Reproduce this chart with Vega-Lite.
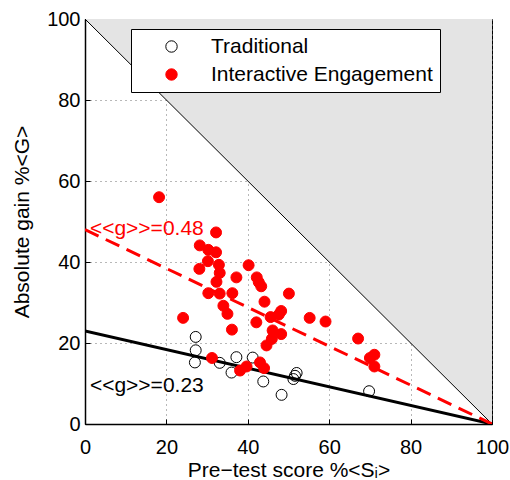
{
  "$schema": "https://vega.github.io/schema/vega-lite/v6.json",
  "width": 407,
  "height": 405,
  "autosize": {"type": "none"},
  "padding": {"left": 85, "top": 19, "right": 18, "bottom": 56},
  "background": "white",
  "config": {
    "font": "Liberation Sans",
    "view": {"stroke": "black", "strokeWidth": 1},
    "axis": {
      "grid": true,
      "gridDash": [1, 4],
      "gridColor": "#707070",
      "gridWidth": 1,
      "domainColor": "black",
      "domainWidth": 1.5,
      "tickColor": "black",
      "tickSize": -5,
      "labelFlush": false,
      "labelFont": "Liberation Sans",
      "labelFontSize": 20,
      "labelColor": "black",
      "titleFont": "Liberation Sans",
      "titleFontSize": 21,
      "titleFontWeight": "normal",
      "titleColor": "black"
    },
    "axisX": {"labelPadding": 18, "titlePadding": 2},
    "axisY": {"labelPadding": 10, "titlePadding": 14},
    "legend": {
      "orient": "none",
      "legendX": 46,
      "legendY": 10,
      "strokeColor": "black",
      "fillColor": "white",
      "padding": 7,
      "symbolOffset": 23,
      "labelOffset": 29,
      "labelFontSize": 21,
      "labelFont": "Liberation Sans",
      "labelColor": "black",
      "labelLimit": 400,
      "rowPadding": 6,
      "symbolSize": 130,
      "symbolStrokeWidth": 1
    }
  },
  "datasets": {
    "tri": [
      {"x": 0, "y": 100, "y2": 100},
      {"x": 100, "y": 0, "y2": 100}
    ],
    "fitIE": [{"x": 0, "y": 48}, {"x": 100, "y": 0}],
    "fitT": [{"x": 0, "y": 23}, {"x": 100, "y": 0}],
    "labels": [
      {"x": 1.2, "y": 46.7, "label": "<<g>>=0.48", "kind": "IE"},
      {"x": 1.2, "y": 8.0, "label": "<<g>>=0.23", "kind": "T"}
    ],
    "pts": [
      {"group": "Traditional", "x": 27.2, "y": 21.5},
      {"group": "Traditional", "x": 27.2, "y": 18.2},
      {"group": "Traditional", "x": 27.0, "y": 15.2},
      {"group": "Traditional", "x": 33.1, "y": 15.1},
      {"group": "Traditional", "x": 37.2, "y": 16.5},
      {"group": "Traditional", "x": 41.2, "y": 16.4},
      {"group": "Traditional", "x": 36.0, "y": 12.7},
      {"group": "Traditional", "x": 43.8, "y": 10.5},
      {"group": "Traditional", "x": 48.3, "y": 7.2},
      {"group": "Traditional", "x": 52.0, "y": 12.6},
      {"group": "Traditional", "x": 51.6, "y": 11.9},
      {"group": "Traditional", "x": 51.2, "y": 11.1},
      {"group": "Traditional", "x": 69.8, "y": 8.1},
      {"group": "Interactive Engagement", "x": 18.2, "y": 56.0},
      {"group": "Interactive Engagement", "x": 32.2, "y": 47.3},
      {"group": "Interactive Engagement", "x": 28.2, "y": 44.1},
      {"group": "Interactive Engagement", "x": 30.3, "y": 43.0},
      {"group": "Interactive Engagement", "x": 32.2, "y": 42.4},
      {"group": "Interactive Engagement", "x": 30.2, "y": 40.2},
      {"group": "Interactive Engagement", "x": 32.9, "y": 39.3},
      {"group": "Interactive Engagement", "x": 28.1, "y": 38.3},
      {"group": "Interactive Engagement", "x": 40.2, "y": 39.2},
      {"group": "Interactive Engagement", "x": 33.1, "y": 37.3},
      {"group": "Interactive Engagement", "x": 37.2, "y": 36.2},
      {"group": "Interactive Engagement", "x": 42.2, "y": 36.2},
      {"group": "Interactive Engagement", "x": 32.3, "y": 35.1},
      {"group": "Interactive Engagement", "x": 42.7, "y": 35.0},
      {"group": "Interactive Engagement", "x": 43.3, "y": 34.0},
      {"group": "Interactive Engagement", "x": 30.3, "y": 32.3},
      {"group": "Interactive Engagement", "x": 33.1, "y": 32.2},
      {"group": "Interactive Engagement", "x": 36.2, "y": 32.3},
      {"group": "Interactive Engagement", "x": 50.1, "y": 32.2},
      {"group": "Interactive Engagement", "x": 44.1, "y": 30.2},
      {"group": "Interactive Engagement", "x": 34.0, "y": 29.2},
      {"group": "Interactive Engagement", "x": 35.0, "y": 27.2},
      {"group": "Interactive Engagement", "x": 48.2, "y": 27.9},
      {"group": "Interactive Engagement", "x": 47.6, "y": 27.0},
      {"group": "Interactive Engagement", "x": 45.6, "y": 26.4},
      {"group": "Interactive Engagement", "x": 24.1, "y": 26.2},
      {"group": "Interactive Engagement", "x": 55.2, "y": 26.2},
      {"group": "Interactive Engagement", "x": 59.1, "y": 25.3},
      {"group": "Interactive Engagement", "x": 42.1, "y": 25.1},
      {"group": "Interactive Engagement", "x": 36.1, "y": 23.3},
      {"group": "Interactive Engagement", "x": 46.1, "y": 23.1},
      {"group": "Interactive Engagement", "x": 48.2, "y": 22.2},
      {"group": "Interactive Engagement", "x": 45.9, "y": 21.0},
      {"group": "Interactive Engagement", "x": 44.6, "y": 19.4},
      {"group": "Interactive Engagement", "x": 31.2, "y": 16.3},
      {"group": "Interactive Engagement", "x": 38.1, "y": 13.2},
      {"group": "Interactive Engagement", "x": 39.7, "y": 14.2},
      {"group": "Interactive Engagement", "x": 43.0, "y": 15.2},
      {"group": "Interactive Engagement", "x": 44.0, "y": 13.8},
      {"group": "Interactive Engagement", "x": 67.1, "y": 21.1},
      {"group": "Interactive Engagement", "x": 71.1, "y": 17.1},
      {"group": "Interactive Engagement", "x": 70.0, "y": 16.3},
      {"group": "Interactive Engagement", "x": 71.1, "y": 14.2}
    ]
  },
  "encoding": {
    "x": {
      "field": "x",
      "type": "quantitative",
      "scale": {"domain": [0, 100], "nice": false, "zero": false},
      "axis": {"values": [0, 20, 40, 60, 80, 100]},
      "title": "Pre−test score %<Sᵢ>"
    },
    "y": {
      "field": "y",
      "type": "quantitative",
      "scale": {"domain": [0, 100], "nice": false, "zero": false},
      "axis": {"values": [0, 20, 40, 60, 80, 100]},
      "title": "Absolute gain %<G>"
    }
  },
  "layer": [
    {
      "data": {"name": "tri"},
      "mark": {"type": "area", "color": "#e4e4e4", "clip": true},
      "encoding": {"y2": {"field": "y2"}}
    },
    {
      "data": {"name": "tri"},
      "mark": {"type": "line", "color": "black", "strokeWidth": 1, "clip": true},
      "encoding": {}
    },
    {
      "data": {"name": "fitT"},
      "mark": {"type": "line", "color": "black", "strokeWidth": 3, "clip": true},
      "encoding": {}
    },
    {
      "data": {"name": "fitIE"},
      "mark": {"type": "line", "color": "#ff0000", "strokeWidth": 3, "strokeDash": [15, 8], "clip": true},
      "encoding": {}
    },
    {
      "data": {"name": "pts"},
      "mark": {"type": "point", "shape": "circle", "size": 120, "strokeWidth": 1, "opacity": 1},
      "encoding": {
        "fill": {
          "field": "group",
          "type": "nominal",
          "scale": {"domain": ["Traditional", "Interactive Engagement"], "range": ["transparent", "#ff0000"]},
          "legend": {"title": null}
        },
        "stroke": {
          "field": "group",
          "type": "nominal",
          "scale": {"domain": ["Traditional", "Interactive Engagement"], "range": ["black", "#ff0000"]},
          "legend": {"title": null}
        }
      }
    },
    {
      "data": {"name": "labels"},
      "mark": {"type": "text", "align": "left", "baseline": "alphabetic", "fontSize": 21, "font": "Liberation Sans"},
      "encoding": {
        "text": {"field": "label"},
        "color": {
          "field": "kind",
          "type": "nominal",
          "scale": {"domain": ["IE", "T"], "range": ["#ff0000", "black"]},
          "legend": null
        }
      }
    }
  ]
}
